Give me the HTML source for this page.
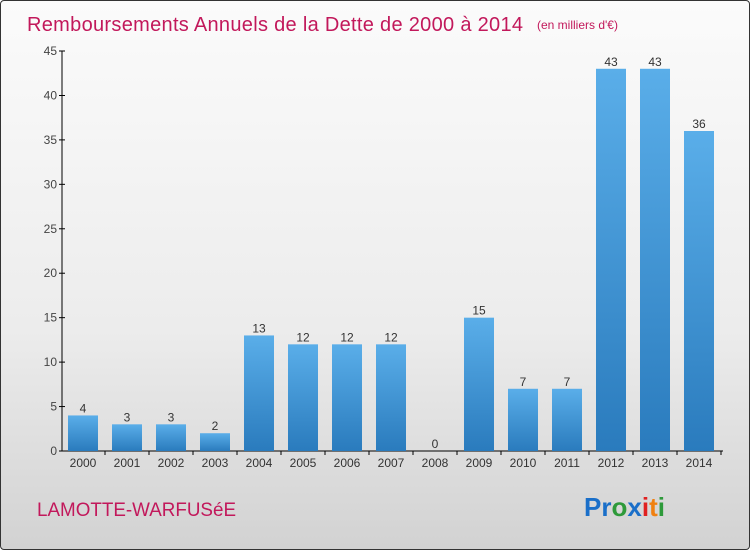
<!DOCTYPE html>
<html><head><meta charset="utf-8"><style>
body{margin:0;}
#chart{width:750px;height:550px;position:relative;overflow:hidden;box-sizing:border-box;border:1px solid #333;border-radius:4px;background:linear-gradient(#fbfbfb,#ececec 60%,#d2d2d2);font-family:"Liberation Sans",sans-serif;}
</style></head><body>
<div id="chart">
<svg id="svg" width="750" height="550" style="position:absolute;left:0;top:0">
<defs><linearGradient id="bg" x1="0" y1="0" x2="0" y2="1"><stop offset="0" stop-color="#5aaee9"/><stop offset="1" stop-color="#2a7bbd"/></linearGradient></defs>
<text x="26" y="30" font-size="20" fill="#c2185b" textLength="496" lengthAdjust="spacing">Remboursements Annuels de la Dette de 2000 à 2014</text>
<text x="536" y="28" font-size="12" fill="#c2185b">(en milliers d'€)</text>
<text x="36" y="515" font-size="19" fill="#c2185b" textLength="199" lengthAdjust="spacingAndGlyphs">LAMOTTE-WARFUSéE</text>
<text x="583" y="515" font-size="26" font-weight="bold"><tspan fill="#1a6fc9">Pr</tspan><tspan fill="#2e9a3a">o</tspan><tspan fill="#1a6fc9">x</tspan><tspan fill="#e02020">i</tspan><tspan fill="#f08010">t</tspan><tspan fill="#2e9a3a">i</tspan></text>
</svg>
</div>
<script>
const categories=["2000","2001","2002","2003","2004","2005","2006","2007","2008","2009","2010","2011","2012","2013","2014"];
const values=[4,3,3,2,13,12,12,12,0,15,7,7,43,43,36];
const yTicks=[0,5,10,15,20,25,30,35,40,45];
const svg=document.getElementById('svg');
const NS='http://www.w3.org/2000/svg';
const y0=450,y1=50,yMax=45,xStart=60,step=44,bw=30;
const Y=v=>y0-(v/yMax)*(y0-y1);
const X=i=>xStart+step*i+step/2;
function mk(t,a){const e=document.createElementNS(NS,t);for(const k in a)e.setAttribute(k,a[k]);svg.appendChild(e);return e;}
const ax=mk('line',{x1:61,y1:y1,x2:61,y2:y0,stroke:'#000'});


const bx=mk('line',{x1:61,y1:y0,x2:722,y2:y0,stroke:'#000'});


yTicks.forEach(t=>{
 const l=mk('line',{x1:58,y1:Y(t),x2:64,y2:Y(t),stroke:'#000'});
 
 
 const tx=mk('text',{x:56,y:Y(t)+4,'font-size':12,fill:'#444','text-anchor':'end'});
 tx.textContent=t;
 
 
});
categories.forEach((c,i)=>{
 const cx=X(i),v=values[i];
 const r=mk('rect',{x:cx-bw/2,y:Y(v),width:bw,height:y0-Y(v),fill:'url(#bg)'});
 
 
 const tk=mk('line',{x1:cx+step/2,y1:y0,x2:cx+step/2,y2:y0+4,stroke:'#000'});
 
 
 const lb=mk('text',{x:cx,y:466,'font-size':12,fill:'#333','text-anchor':'middle'});
 lb.textContent=c;
 
 
 const vl=mk('text',{x:cx,y:Y(v)-3,'font-size':12,fill:'#333','text-anchor':'middle'});
 vl.textContent=v;
 
 
});
</script>
</body></html>
